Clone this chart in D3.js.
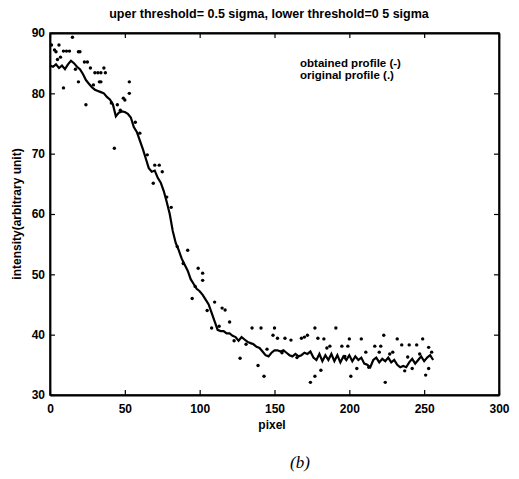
<!DOCTYPE html>
<html><head><meta charset="utf-8">
<script src="https://cdn.jsdelivr.net/npm/d3@7"></script>
<style>
body{margin:0;background:#fff;}
text{font-family:"Liberation Sans Narrow","Arial Narrow","Liberation Sans",sans-serif;font-weight:bold;fill:#000;}
</style></head><body>
<svg id="c" width="519" height="479"></svg>
<script>
// ---- data ----
const titleText = "uper threshold= 0.5 sigma, lower threshold=0 5 sigma";
const xLabel = "pixel";
const yLabel = "intensity(arbitrary unit)";
const legendLines = ["obtained profile (-)", "original profile (.)"];
const xTicks = [0, 50, 100, 150, 200, 250, 300];
const yTicks = [30, 40, 50, 60, 70, 80, 90];

// obtained profile (solid line)
const linePixel = [0,2,4,6,8,10,12,14,16,18,20,22,24,26,28,30,32,34,36,38,40,42,44,46,48,50,52,54,56,58,60,62,64,66,68,70,72,74,76,78,80,82,84,86,88,90,92,94,96,98,100,102,104,106,108,110,112,114,116,118,120,122,124,126,128,130,132,134,136,138,140,142,144,146,148,150,152,154,156,158,160,162,164,166,168,170,172,174,176,178,180,182,184,186,188,190,192,194,196,198,200,202,204,206,208,210,212,214,216,218,220,222,224,226,228,230,232,234,236,238,240,242,244,246,248,250,252,254,256];
const lineValue = [84.6,84.4,84.8,84.2,84.6,84.0,84.8,85.4,85.0,84.4,84.0,83.2,82.2,81.6,81.0,80.6,80.4,80.2,80.0,79.4,79.0,78.2,76.2,76.8,77.0,76.9,76.6,76.0,74.4,73.6,72.2,70.8,69.2,67.6,67.0,67.2,66.0,65.2,63.8,62.0,60.0,57.2,55.2,54.0,52.6,51.6,50.6,49.2,48.4,47.6,47.2,46.6,45.8,45.0,43.6,42.2,40.8,40.6,40.6,40.2,40.2,39.8,39.6,39.0,39.6,39.2,38.8,38.6,38.4,38.0,37.8,37.2,36.6,36.4,37.0,37.4,37.4,37.2,37.4,37.0,36.6,36.4,36.8,36.4,36.6,37.0,36.8,37.2,36.2,35.8,36.8,35.6,36.6,35.8,36.8,35.6,36.6,35.4,36.4,35.8,36.6,35.6,36.4,35.8,36.2,35.2,35.0,34.6,35.8,36.2,35.4,36.0,35.6,36.2,35.4,35.8,35.0,34.6,34.8,34.6,35.4,36.0,35.2,35.8,36.4,35.6,36.2,36.6,35.8];

// original profile (dots)
const dotPixel = [1,3,4,6,7,9,11,13,15,19,20,23,25,27,30,32,34,36,37,33,34,19,53,9,53,50,24,45,47,49,43,60,70,73,75,69,78,81,92,99,102,102,95,110,115,108,117,120,127,135,141,139,143,150,149,152,157,161,168,170,172,177,174,177,181,179,183,187,191,195,199,201,200,208,205,211,217,221,223,224,220,229,232,235,240,245,249,242,253,255,251,253,239,5,17,29,41,57,65,85,89,97,105,113,123,131,145,155,165,185,197,213,227,237,247];
const dotValue = [88.0,87.2,86.9,88.0,86.0,87.0,87.0,87.0,89.3,86.9,86.9,85.2,85.2,84.2,83.4,83.4,83.4,84.2,83.4,81.9,81.9,81.9,81.9,80.9,80.0,78.9,78.1,78.1,77.2,79.2,70.9,73.4,68.1,68.1,67.0,65.1,62.8,61.1,54.0,51.0,50.2,49.0,46.0,45.4,44.4,41.1,44.1,42.1,36.1,41.1,41.1,34.9,33.1,41.1,39.9,39.4,39.4,39.1,39.4,39.6,39.9,41.1,32.1,33.1,34.1,39.4,39.3,38.1,41.1,38.1,38.1,33.1,39.3,39.3,34.4,37.1,38.1,38.1,39.9,32.1,37.1,37.1,39.3,38.3,38.3,38.3,39.3,34.4,37.9,37.1,33.3,34.4,36.3,85.6,84.0,81.4,78.4,75.2,69.8,54.6,51.8,48.0,44.0,41.4,39.0,38.4,37.6,37.0,36.2,37.8,36.4,34.6,36.8,34.0,36.8];

// ---- chart ----
const svg = d3.select("#c");
const x = d3.scaleLinear().domain([0, 300]).range([50, 499]);
const y = d3.scaleLinear().domain([30, 90]).range([395, 33]);

// frame
svg.append("rect").attr("x", 50).attr("y", 33).attr("width", 449).attr("height", 362)
  .attr("fill", "none").attr("stroke", "#000").attr("stroke-width", 1.5);

// axes with inward ticks
const gx = svg.append("g").attr("transform", "translate(0,395)")
  .call(d3.axisBottom(x).tickValues(xTicks).tickSizeInner(-5).tickSizeOuter(0).tickPadding(9));
const gxt = svg.append("g").attr("transform", "translate(0,33)")
  .call(d3.axisTop(x).tickValues(xTicks).tickSizeInner(-5).tickSizeOuter(0).tickFormat(""));
const gy = svg.append("g").attr("transform", "translate(50,0)")
  .call(d3.axisLeft(y).tickValues(yTicks).tickSizeInner(-5).tickSizeOuter(0).tickPadding(5));
const gyr = svg.append("g").attr("transform", "translate(499,0)")
  .call(d3.axisRight(y).tickValues(yTicks).tickSizeInner(-5).tickSizeOuter(0).tickFormat(""));
[gx, gxt, gy, gyr].forEach(g => {
  g.select(".domain").attr("stroke", "#000").attr("stroke-width", 1.8);
  g.selectAll(".tick line").attr("stroke", "#000").attr("stroke-width", 1.2);
  g.selectAll("text").style("font-family", '"Liberation Sans Narrow","Arial Narrow",sans-serif')
    .style("font-weight", "bold").style("font-size", "12px").attr("fill", "#000");
});

// line
const pts = linePixel.map((p, i) => [p, lineValue[i]]);
svg.append("path").datum(pts)
  .attr("d", d3.line().x(d => x(d[0])).y(d => y(d[1])))
  .attr("fill", "none").attr("stroke", "#000").attr("stroke-width", 2.2).attr("stroke-linejoin", "miter");

// dots
svg.append("g").selectAll("circle").data(dotPixel.map((p, i) => [p, dotValue[i]]))
  .join("circle").attr("cx", d => x(d[0])).attr("cy", d => y(d[1])).attr("r", 1.7).attr("fill", "#000");

// texts
svg.append("text").attr("x", 269).attr("y", 18).attr("text-anchor", "middle")
  .style("font-size", "12.5px").text(titleText);
svg.append("text").attr("x", 272).attr("y", 429).attr("text-anchor", "middle")
  .style("font-size", "12px").text(xLabel);
svg.append("text").attr("transform", "translate(21,214) rotate(-90)").attr("text-anchor", "middle")
  .style("font-size", "12px").text(yLabel);
legendLines.forEach((t, i) => {
  svg.append("text").attr("x", 300).attr("y", 67 + i * 12).style("font-size", "11.5px").text(t);
});
svg.append("text").attr("x", 300).attr("y", 468).attr("text-anchor", "middle")
  .style("font-family", '"Liberation Serif","DejaVu Serif",serif').style("font-style", "italic")
  .style("font-weight", "normal").style("font-size", "17px").text("(b)");
</script>
</body></html>
